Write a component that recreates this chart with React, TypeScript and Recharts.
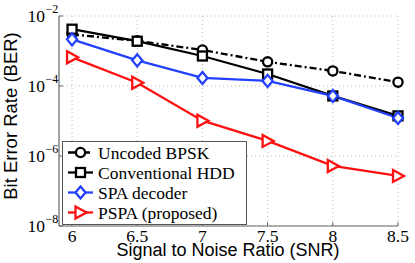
import React from "react";
import { LineChart, Line, XAxis, YAxis, CartesianGrid } from "recharts";

const snr = [6, 6.5, 7, 7.5, 8, 8.5];
const uncodedBPSK = [3.0e-3, 1.95e-3, 1.07e-3, 4.9e-4, 2.7e-4, 1.29e-4];
const conventionalHDD = [4.2e-3, 1.9e-3, 7.2e-4, 2.2e-4, 5.2e-5, 1.4e-5];
const spaDecoder = [2.15e-3, 5.4e-4, 1.7e-4, 1.4e-4, 5.2e-5, 1.22e-5];
const pspaProposed = [6.6e-4, 1.24e-4, 1.02e-5, 2.7e-6, 5.2e-7, 2.7e-7];
const xTicks = [6, 6.5, 7, 7.5, 8, 8.5];
const yTicks = [1e-8, 1e-6, 1e-4, 1e-2];
const yExponents = ["−8", "−6", "−4", "−2"];

const data = snr.map((s, i) => ({
  snr: s,
  uncoded: uncodedBPSK[i],
  hdd: conventionalHDD[i],
  spa: spaDecoder[i],
  pspa: pspaProposed[i],
}));

const BLUE = "#2340ff";
const RED = "#ff1010";
const SERIF = "'Liberation Serif', 'Times New Roman', serif";
const SANS = "'Liberation Sans', Arial, sans-serif";

type Kind = "circle" | "square" | "diamond" | "triangle";

function MarkerShape({ kind, cx, cy, color }: { kind: Kind; cx: number; cy: number; color: string }) {
  const sw = 2.3;
  if (kind === "circle") return <circle cx={cx} cy={cy} r={4.6} fill="#fff" stroke={color} strokeWidth={sw} />;
  if (kind === "square") return <rect x={cx - 4.5} y={cy - 4.5} width={9} height={9} fill="#fff" stroke={color} strokeWidth={sw} />;
  if (kind === "diamond")
    return (
      <polygon
        points={`${cx},${cy - 6} ${cx + 5},${cy} ${cx},${cy + 6} ${cx - 5},${cy}`}
        fill="#fff"
        stroke={color}
        strokeWidth={sw}
      />
    );
  return (
    <polygon
      points={`${cx - 5},${cy - 6} ${cx + 6},${cy} ${cx - 5},${cy + 6}`}
      fill="#fff"
      stroke={color}
      strokeWidth={sw}
    />
  );
}

const makeDot = (kind: Kind, color: string) => (props: any) => {
  const { cx, cy, index } = props;
  if (cx == null || cy == null) return <g key={`d-${kind}-${index}`} />;
  return (
    <g key={`d-${kind}-${index}`}>
      <MarkerShape kind={kind} cx={cx} cy={cy} color={color} />
    </g>
  );
};

const legendItems: { label: string; kind: Kind; color: string; dash?: string }[] = [
  { label: "Uncoded BPSK", kind: "circle", color: "#000", dash: "7 3 2 3" },
  { label: "Conventional HDD", kind: "square", color: "#000" },
  { label: "SPA decoder", kind: "diamond", color: BLUE },
  { label: "PSPA (proposed)", kind: "triangle", color: RED },
];

const LegendBox = () => (
  <svg width={185} height={84} style={{ display: "block" }}>
    <rect x={0.5} y={0.5} width={184} height={83} fill="#fff" stroke="#555" strokeWidth={1} />
    {legendItems.map((it, i) => {
      const y = 11.5 + i * 20;
      return (
        <g key={it.label}>
          <line x1={6} x2={31} y1={y} y2={y} stroke={it.color} strokeWidth={2.3} strokeDasharray={it.dash} />
          <MarkerShape kind={it.kind} cx={18.5} cy={y} color={it.color} />
          <text x={36} y={y + 6} fontFamily={SERIF} fontSize={17.5} fill="#000">
            {it.label}
          </text>
        </g>
      );
    })}
  </svg>
);

const XTick = (props: any) => {
  const { x, payload } = props;
  return (
    <g>
      <line x1={x} x2={x} y1={226} y2={222} stroke="#666" strokeWidth={1} />
      <text x={x} y={241.5} textAnchor="middle" fontFamily={SERIF} fontSize={17.5} fill="#000">
        {payload.value}
      </text>
    </g>
  );
};

const YTick = (props: any) => {
  const { y, payload, index } = props;
  const idx = yTicks.findIndex((t) => Math.abs(Math.log10(t) - Math.log10(payload.value)) < 1e-6);
  const exp = yExponents[idx >= 0 ? idx : index];
  return (
    <g>
      <line x1={59} x2={63} y1={y} y2={y} stroke="#666" strokeWidth={1} />
      <text x={45} y={y + 6} textAnchor="end" fontFamily={SERIF} fontSize={17.5} fill="#000">
        10
      </text>
      <text x={45.5} y={y - 3} textAnchor="start" fontFamily={SERIF} fontSize={12} fill="#000">
        {exp}
      </text>
    </g>
  );
};

export default function App() {
  return (
    <div style={{ position: "absolute", left: 0, top: 0, width: 415, height: 263, background: "#fff" }}>
      <LineChart width={415} height={263} data={data} margin={{ top: 16, right: 17, bottom: 0, left: 0 }}>
        <CartesianGrid stroke="#bbb" strokeDasharray="1 3" horizontalValues={yTicks} verticalValues={xTicks} />
        <XAxis
          dataKey="snr"
          type="number"
          domain={[5.9, 8.5]}
          ticks={xTicks}
          height={37}
          interval={0}
          axisLine={{ stroke: "#666", strokeWidth: 1.2 }}
          tickLine={false}
          tick={<XTick />}
        />
        <YAxis
          scale="log"
          type="number"
          domain={[1e-8, 1e-2]}
          ticks={yTicks}
          width={59}
          interval={0}
          axisLine={{ stroke: "#666", strokeWidth: 1.2 }}
          tickLine={false}
          tick={<YTick />}
        />
        <Line
          dataKey="uncoded"
          stroke="#000"
          strokeWidth={2.3}
          strokeDasharray="7 3 2 3"
          dot={makeDot("circle", "#000")}
          isAnimationActive={false}
        />
        <Line dataKey="hdd" stroke="#000" strokeWidth={2.3} dot={makeDot("square", "#000")} isAnimationActive={false} />
        <Line dataKey="spa" stroke={BLUE} strokeWidth={2.3} dot={makeDot("diamond", BLUE)} isAnimationActive={false} />
        <Line dataKey="pspa" stroke={RED} strokeWidth={2.3} dot={makeDot("triangle", RED)} isAnimationActive={false} />
      </LineChart>
      <div style={{ position: "absolute", left: 62, top: 141 }}>
        <LegendBox />
      </div>
      <div
        style={{
          position: "absolute",
          left: 11,
          top: 116,
          transform: "translate(-50%, -50%) rotate(-90deg)",
          whiteSpace: "nowrap",
          fontFamily: SANS,
          fontSize: 18.5,
          lineHeight: 1,
          color: "#000",
        }}
      >
        Bit Error Rate (BER)
      </div>
      <div
        style={{
          position: "absolute",
          left: 228,
          top: 241,
          transform: "translateX(-50%)",
          whiteSpace: "nowrap",
          fontFamily: SANS,
          fontSize: 18,
          lineHeight: 1,
          color: "#000",
        }}
      >
        Signal to Noise Ratio (SNR)
      </div>
    </div>
  );
}
